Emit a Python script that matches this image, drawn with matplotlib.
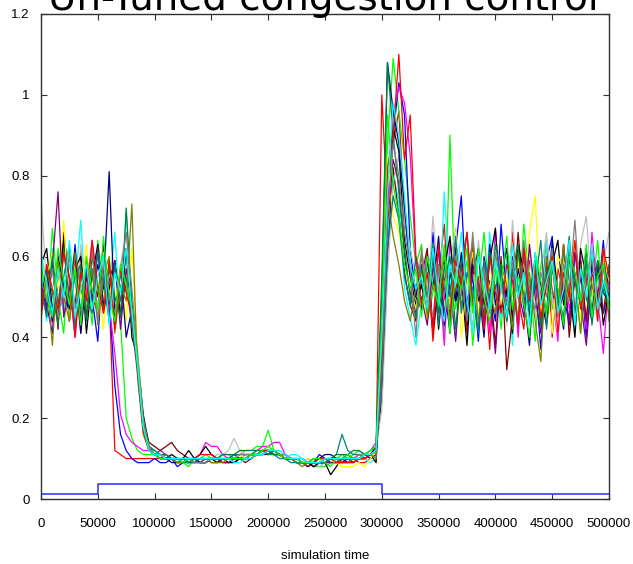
import matplotlib
matplotlib.use('Agg')
import matplotlib.pyplot as plt
import numpy as np

# sample times (every 5000 time units)
sim_time = np.arange(0, 500001, 5000)

# per-flow values, in hundredths
# rows: 0-80000 | 85000-95000 | 100000-290000 | 295000-330000 | 335000-500000
s01 = [52, 47, 58, 44, 63, 49, 55, 41, 60, 50, 46, 57, 50, 12, 11, 10, 10,
       10, 10, 10,
       10, 10, 11, 10, 9, 10, 9, 10, 9, 9, 10, 9, 10, 10, 9, 10, 10, 11, 11, 12,
       12, 11, 11, 10, 10, 9, 9, 10, 9, 9, 10, 10, 9, 9, 10, 10, 9, 9, 10,
       12, 100, 72, 88, 96, 70, 58, 52,
       47, 61, 39, 55, 68, 44, 52, 58, 41, 63, 49, 56, 37, 60, 53, 45, 66, 50, 42, 59,
       54, 48, 64, 40, 57, 51, 62, 46, 55, 43, 60, 49, 58, 45]
s02 = [60, 45, 67, 50, 41, 62, 55, 47, 58, 43, 64, 52, 46, 59, 44, 20, 15,
       12, 11, 11,
       11, 12, 11, 10, 10, 9, 8, 10, 10, 11, 10, 10, 11, 11, 10, 11, 12, 12, 13, 13,
       17, 12, 11, 10, 10, 9, 9, 9, 8, 8, 8, 9, 10, 11, 10, 11, 12, 11, 10,
       11, 42, 88, 109, 96, 84, 70, 58,
       63, 44, 51, 58, 40, 90, 47, 55, 62, 38, 53, 66, 49, 57, 42, 60, 51, 45, 68, 54,
       39, 58, 63, 47, 52, 44, 61, 56, 41, 59, 50, 64, 46, 53]
s03 = [55, 48, 41, 59, 52, 46, 63, 44, 57, 50, 39, 61, 50, 28, 16, 12, 10,
       9, 9, 9,
       10, 9, 9, 10, 8, 9, 10, 9, 10, 10, 9, 9, 10, 10, 11, 10, 10, 11, 11, 12,
       11, 12, 11, 10, 10, 9, 9, 8, 9, 11, 10, 9, 9, 10, 10, 9, 10, 11, 10,
       11, 35, 72, 90, 103, 95, 62, 50,
       58, 45, 66, 49, 53, 41, 62, 75, 47, 55, 39, 60, 52, 44, 68, 50, 57, 42, 63, 48,
       54, 37, 59, 65, 46, 51, 43, 61, 56, 40, 58, 49, 64, 45]
s04 = [49, 57, 43, 61, 46, 53, 40, 58, 51, 64, 45, 55, 48, 36, 21, 16, 14,
       13, 12, 12,
       11, 12, 11, 10, 10, 10, 10, 10, 11, 14, 13, 13, 11, 10, 10, 10, 11, 11, 12, 13,
       13, 14, 14, 11, 10, 9, 9, 9, 8, 9, 9, 10, 10, 9, 10, 10, 11, 11, 12,
       14, 28, 70, 95, 102, 98, 85, 58,
       52, 60, 43, 56, 38, 64, 49, 55, 44, 61, 50, 58, 41, 67, 46, 53, 59, 40, 62, 48,
       55, 44, 57, 51, 39, 63, 47, 54, 60, 42, 66, 50, 36, 55]
s05 = [56, 44, 62, 50, 47, 58, 53, 69, 45, 55, 61, 48, 52, 66, 43, 71, 47,
       34, 18, 13,
       12, 11, 10, 10, 9, 9, 10, 10, 9, 9, 10, 9, 10, 10, 10, 11, 11, 11, 12, 12,
       12, 11, 11, 10, 11, 11, 10, 9, 9, 8, 9, 10, 9, 10, 10, 10, 11, 10, 9,
       10, 30, 65, 80, 74, 52, 45, 38,
       49, 57, 63, 44, 76, 52, 40, 58, 47, 61, 54, 43, 66, 50, 45, 59, 38, 62, 53, 48,
       57, 41, 64, 51, 46, 60, 55, 42, 58, 49, 63, 44, 52, 47]
s06 = [51, 46, 59, 42, 66, 54, 48, 61, 45, 57, 50, 63, 44, 58, 49, 53, 46,
       33, 20, 14,
       13, 12, 13, 14, 12, 11, 10, 10, 9, 9, 10, 10, 9, 9, 10, 10, 9, 10, 11, 11,
       12, 12, 11, 11, 10, 10, 9, 8, 9, 9, 9, 10, 10, 9, 10, 10, 10, 11, 11,
       12, 25, 60, 82, 70, 56, 48, 44,
       55, 62, 41, 53, 59, 46, 64, 50, 43, 57, 61, 48, 54, 38, 60, 32, 45, 66, 49, 52,
       56, 43, 58, 51, 47, 63, 40, 55, 59, 44, 61, 50, 46, 57]
s07 = [75, 52, 45, 60, 48, 55, 42, 63, 50, 57, 46, 61, 53, 44, 58, 66, 50,
       36, 19, 13,
       12, 11, 11, 10, 10, 10, 10, 9, 9, 10, 10, 11, 11, 12, 15, 12, 11, 11, 11, 12,
       12, 12, 11, 10, 10, 10, 9, 9, 9, 8, 9, 9, 10, 10, 9, 9, 10, 11, 12,
       13, 22, 55, 78, 85, 70, 62, 55,
       61, 48, 70, 53, 44, 58, 67, 49, 55, 42, 64, 51, 46, 60, 57, 43, 69, 52, 48, 62,
       45, 56, 66, 50, 41, 59, 54, 47, 63, 70, 51, 44, 58, 66]
s08 = [58, 62, 47, 53, 65, 44, 57, 60, 41, 55, 63, 48, 52, 59, 45, 62, 40,
       35, 21, 13,
       11, 10, 10, 11, 10, 10, 12, 10, 11, 13, 11, 10, 10, 9, 9, 10, 10, 10, 11, 12,
       12, 11, 11, 10, 10, 9, 9, 9, 8, 9, 9, 6, 8, 10, 11, 10, 10, 10, 11,
       9, 38, 80, 92, 86, 64, 55, 48,
       53, 46, 60, 42, 57, 65, 49, 54, 38, 61, 50, 44, 59, 67, 47, 52, 41, 63, 56, 45,
       60, 50, 43, 58, 64, 48, 53, 40, 62, 55, 46, 59, 43, 52]
s09 = [48, 55, 61, 52, 69, 45, 58, 50, 63, 47, 54, 42, 60, 49, 56, 44, 62,
       37, 18, 12,
       11, 11, 10, 10, 10, 9, 9, 9, 9, 10, 10, 10, 9, 10, 10, 11, 10, 11, 12, 12,
       13, 12, 11, 10, 10, 9, 9, 10, 9, 9, 10, 10, 9, 8, 8, 8, 9, 8, 10,
       12, 48, 85, 70, 66, 58, 52, 47,
       56, 44, 62, 50, 58, 47, 66, 40, 54, 61, 45, 57, 52, 63, 48, 55, 43, 59, 51, 66,
       75, 46, 53, 41, 60, 57, 49, 64, 44, 58, 52, 47, 61, 54]
s10 = [50, 57, 44, 60, 53, 47, 62, 41, 55, 49, 58, 52, 81, 45, 57, 40, 47,
       34, 19, 12,
       11, 10, 10, 9, 9, 9, 10, 10, 9, 9, 10, 9, 10, 10, 10, 10, 10, 11, 11, 11,
       12, 12, 11, 10, 10, 10, 9, 9, 10, 10, 11, 11, 10, 10, 9, 10, 10, 11, 11,
       13, 50, 108, 96, 88, 72, 57, 50,
       47, 59, 52, 65, 43, 56, 49, 61, 45, 58, 53, 40, 63, 48, 55, 62, 44, 57, 50, 38,
       60, 53, 46, 64, 51, 42, 59, 55, 48, 62, 45, 57, 51, 49]
s11 = [53, 47, 58, 76, 45, 52, 60, 43, 56, 49, 62, 46, 54, 59, 42, 57, 48,
       32, 17, 12,
       11, 11, 10, 10, 10, 10, 9, 9, 9, 10, 10, 10, 9, 9, 10, 10, 10, 10, 11, 11,
       11, 12, 11, 11, 10, 10, 9, 9, 9, 9, 9, 9, 9, 10, 10, 9, 10, 10, 11,
       12, 30, 68, 84, 78, 60, 51, 46,
       50, 43, 57, 61, 46, 53, 39, 58, 49, 55, 62, 44, 51, 36, 57, 48, 60, 52, 45, 63,
       50, 41, 56, 59, 47, 53, 44, 61, 49, 38, 55, 58, 46, 52]
s12 = [46, 54, 38, 59, 50, 44, 61, 52, 47, 57, 43, 55, 60, 41, 53, 49, 73,
       30, 16, 12,
       11, 10, 10, 10, 9, 9, 9, 10, 10, 10, 9, 9, 9, 10, 10, 10, 10, 11, 11, 11,
       12, 11, 11, 10, 10, 9, 8, 9, 9, 9, 10, 10, 10, 9, 9, 10, 10, 10, 11,
       10, 40, 74, 65, 58, 49, 44, 52,
       60, 45, 53, 49, 62, 41, 57, 48, 55, 64, 43, 59, 51, 46, 58, 53, 42, 61, 50, 56,
       44, 34, 60, 52, 47, 63, 49, 55, 41, 58, 53, 47, 62, 44]
s13 = [52, 45, 60, 48, 55, 63, 42, 57, 50, 46, 61, 54, 44, 58, 49, 55, 43,
       31, 17, 12,
       11, 10, 10, 10, 10, 9, 9, 9, 10, 10, 10, 10, 10, 10, 11, 11, 11, 11, 12, 12,
       11, 11, 10, 10, 9, 9, 9, 9, 9, 9, 9, 10, 11, 16, 12, 11, 11, 10, 11,
       12, 28, 62, 75, 69, 55, 48, 60,
       54, 47, 61, 43, 58, 50, 65, 46, 56, 52, 41, 59, 48, 63, 55, 44, 57, 51, 60, 47,
       53, 64, 42, 57, 50, 45, 61, 54, 48, 59, 43, 56, 51, 58]
s14 = [47, 56, 51, 43, 62, 49, 55, 58, 44, 60, 52, 47, 57, 50, 45, 72, 48,
       33, 18, 13,
       12, 11, 11, 10, 10, 10, 9, 10, 10, 10, 10, 10, 11, 11, 11, 12, 12, 12, 12, 12,
       12, 11, 11, 10, 10, 10, 9, 9, 9, 10, 10, 10, 11, 11, 11, 12, 12, 11, 12,
       13, 55, 108, 90, 76, 62, 50, 45,
       57, 50, 63, 46, 54, 60, 42, 58, 66, 49, 53, 45, 61, 52, 58, 44, 56, 63, 47, 51,
       59, 43, 55, 61, 48, 52, 65, 46, 57, 50, 44, 59, 53, 48]
s15 = [54, 49, 57, 45, 52, 60, 47, 55, 50, 62, 44, 58, 51, 46, 56, 66, 52,
       36, 20, 13,
       11, 11, 10, 10, 10, 10, 10, 9, 9, 9, 10, 10, 10, 10, 10, 11, 11, 11, 11, 12,
       12, 12, 11, 11, 10, 10, 9, 9, 9, 9, 10, 10, 10, 10, 10, 10, 11, 11, 11,
       12, 33, 70, 88, 80, 66, 57, 40,
       62, 51, 45, 58, 53, 47, 60, 55, 44, 66, 50, 57, 46, 61, 53, 48, 59, 43, 64, 52,
       47, 56, 50, 62, 45, 58, 52, 69, 48, 55, 61, 46, 57, 51]
s16 = [44, 58, 52, 47, 61, 55, 40, 56, 49, 64, 53, 46, 59, 42, 57, 51, 45,
       32, 17, 12,
       11, 11, 10, 10, 10, 10, 10, 10, 11, 11, 11, 10, 10, 10, 10, 10, 10, 11, 11, 12,
       12, 12, 11, 10, 10, 10, 10, 9, 9, 10, 10, 10, 9, 9, 9, 9, 10, 10, 11,
       12, 35, 82, 90, 110, 84, 95, 60,
       48, 56, 41, 63, 50, 45, 59, 53, 66, 47, 55, 42, 60, 51, 46, 58, 54, 43, 62, 49,
       57, 45, 53, 60, 41, 56, 50, 64, 47, 53, 59, 44, 62, 55]
s17 = [58, 50, 45, 62, 54, 48, 57, 43, 60, 52, 47, 65, 50, 44, 58, 53, 47,
       34, 18, 12,
       11, 10, 10, 10, 10, 9, 10, 10, 10, 10, 10, 10, 10, 10, 10, 10, 10, 11, 11, 12,
       13, 12, 11, 10, 10, 10, 9, 9, 10, 10, 9, 8, 10, 10, 11, 10, 10, 11, 12,
       13, 45, 95, 78, 70, 58, 52, 57,
       45, 60, 53, 48, 63, 41, 56, 52, 59, 46, 62, 50, 44, 57, 53, 65, 47, 55, 49, 40,
       61, 54, 46, 58, 52, 43, 60, 56, 49, 63, 45, 55, 58, 47]
s18 = [61, 53, 46, 57, 50, 64, 45, 52, 58, 47, 55, 60, 43, 56, 51, 62, 46,
       33, 18, 12,
       11, 11, 10, 10, 10, 10, 10, 10, 10, 10, 10, 10, 10, 10, 9, 9, 10, 10, 11, 11,
       12, 12, 12, 11, 10, 10, 10, 9, 9, 9, 10, 10, 10, 10, 10, 10, 10, 11, 11,
       12, 40, 76, 98, 90, 75, 58, 52,
       55, 47, 62, 50, 44, 58, 53, 66, 49, 41, 60, 54, 47, 59, 52, 45, 63, 50, 56, 43,
       61, 48, 54, 59, 46, 52, 64, 43, 57, 50, 61, 47, 54, 49]

flows = [s01, s02, s03, s04, s05, s06, s07, s08, s09,
         s10, s11, s12, s13, s14, s15, s16, s17, s18]
flow_colors = ['red', '#00ff00', 'blue', 'magenta', 'cyan', '#800000', '#c0c0c0',
               'black', 'yellow', '#000080', '#800080', '#808000', '#008080',
               '#008040', '#808080', 'red', '#00ff00', 'cyan']

# load step (blue line at bottom)
step_time = [0, 50000, 300000, 500000]
step_value = [0.013, 0.038, 0.013, 0.013]

fig = plt.figure(figsize=(6.33, 5.64), dpi=100)
ax = fig.add_axes([41 / 633, 65 / 564, 568 / 633, 485 / 564])

for vals, c in zip(flows, flow_colors):
    ax.plot(sim_time, np.array(vals) / 100.0, color=c, linewidth=0.9)

ax.plot(step_time, step_value, drawstyle='steps-post', color='#4a4aff', linewidth=1.3)

ax.set_xlim(0, 500000)
ax.set_ylim(0, 1.2)
ax.set_xticks(np.arange(0, 500001, 50000))
ax.set_xticklabels([str(v) for v in range(0, 500001, 50000)])
ax.set_yticks([0, 0.2, 0.4, 0.6, 0.8, 1.0, 1.2])
ax.set_yticklabels(['0', '0.2', '0.4', '0.6', '0.8', '1', '1.2'])

for sp in ax.spines.values():
    sp.set_color('#303030')
    sp.set_linewidth(1.0)
ax.tick_params(direction='in', length=4, top=True, right=True, color='#303030',
               labelsize=9.5)
ax.tick_params(axis='x', pad=14)
ax.tick_params(axis='y', pad=8)
for lbl in ax.get_xticklabels() + ax.get_yticklabels():
    lbl.set_family('Liberation Sans')

ax.set_xlabel('simulation time', fontsize=9.5, family='Liberation Sans', labelpad=14)

# title sits partly above the canvas, as in the original
fig.text(323 / 633, 1 - 10 / 564, 'Un-Tuned congestion control', ha='center',
         va='baseline', fontsize=28)

fig.savefig('out.png', dpi=100)
